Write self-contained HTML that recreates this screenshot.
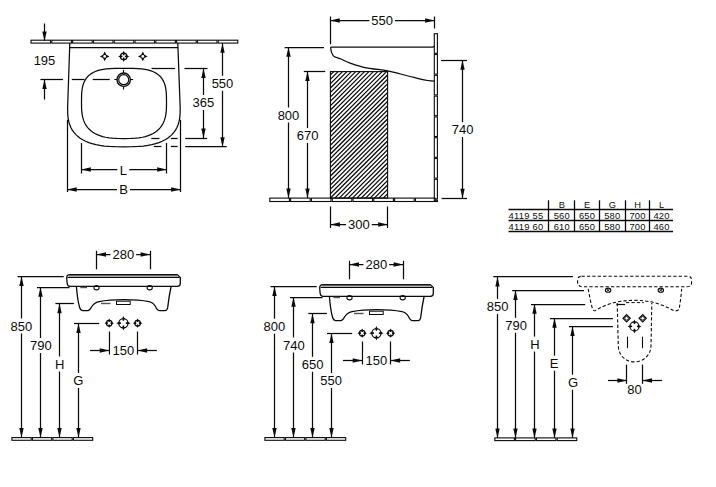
<!DOCTYPE html>
<html><head><meta charset="utf-8"><style>
html,body{margin:0;padding:0;background:#fff;}
svg{display:block;}
text{font-family:"Liberation Sans", sans-serif;fill:#0a0a0a;}
</style></head><body>
<svg width="716" height="487" viewBox="0 0 716 487">
<rect width="716" height="487" fill="#fff"/>
<rect x="31.00" y="40.20" width="19.60" height="2.90" fill="none" stroke="#0a0a0a" stroke-width="1.1"/>
<rect x="51.80" y="40.20" width="19.60" height="2.90" fill="none" stroke="#0a0a0a" stroke-width="1.1"/>
<rect x="72.60" y="40.20" width="19.60" height="2.90" fill="none" stroke="#0a0a0a" stroke-width="1.1"/>
<rect x="93.40" y="40.20" width="19.60" height="2.90" fill="none" stroke="#0a0a0a" stroke-width="1.1"/>
<rect x="114.20" y="40.20" width="19.60" height="2.90" fill="none" stroke="#0a0a0a" stroke-width="1.1"/>
<rect x="135.00" y="40.20" width="19.60" height="2.90" fill="none" stroke="#0a0a0a" stroke-width="1.1"/>
<rect x="155.80" y="40.20" width="19.60" height="2.90" fill="none" stroke="#0a0a0a" stroke-width="1.1"/>
<rect x="176.60" y="40.20" width="19.60" height="2.90" fill="none" stroke="#0a0a0a" stroke-width="1.1"/>
<rect x="197.40" y="40.20" width="19.60" height="2.90" fill="none" stroke="#0a0a0a" stroke-width="1.1"/>
<rect x="218.20" y="40.20" width="19.60" height="2.90" fill="none" stroke="#0a0a0a" stroke-width="1.1"/>
<line x1="44.50" y1="23.50" x2="44.50" y2="41.00" stroke="#0a0a0a" stroke-width="1.25" />
<polygon points="44.50,41.00 42.30,31.50 46.70,31.50" fill="#0a0a0a"/>
<line x1="44.50" y1="79.60" x2="44.50" y2="99.50" stroke="#0a0a0a" stroke-width="1.25" />
<polygon points="44.50,79.60 42.30,89.10 46.70,89.10" fill="#0a0a0a"/>
<text x="44.50" y="65.30" font-size="13" text-anchor="middle">195</text>
<path d="M 177.8 43 L 180.2 108 L 180.20 108.00 L 180.07 114.09 L 179.70 118.07 L 179.06 121.47 L 178.18 124.52 L 177.05 127.29 L 175.67 129.85 L 174.04 132.20 L 172.16 134.36 L 170.03 136.35 L 167.66 138.16 L 165.03 139.79 L 162.15 141.26 L 159.01 142.55 L 155.60 143.68 L 151.90 144.63 L 147.87 145.41 L 143.44 146.02 L 138.51 146.45 L 132.74 146.71 L 123.90 146.80 L 115.06 146.71 L 109.29 146.45 L 104.36 146.02 L 99.93 145.41 L 95.90 144.63 L 92.20 143.68 L 88.79 142.55 L 85.65 141.26 L 82.77 139.79 L 80.14 138.16 L 77.77 136.35 L 75.64 134.36 L 73.76 132.20 L 72.13 129.85 L 70.75 127.29 L 69.62 124.52 L 68.74 121.47 L 68.10 118.07 L 67.73 114.09 L 67.60 108.00 L 69.8 43" fill="none" stroke="#0a0a0a" stroke-width="1.25" />
<line x1="70.00" y1="47.50" x2="178.00" y2="47.50" stroke="#0a0a0a" stroke-width="1.25" />
<path d="M 81.50 103.00 L 81.58 95.58 L 81.82 91.73 L 82.22 88.63 L 82.77 85.97 L 83.49 83.61 L 84.37 81.50 L 85.41 79.59 L 86.62 77.85 L 88.00 76.29 L 89.55 74.87 L 91.28 73.61 L 93.20 72.48 L 95.32 71.50 L 97.66 70.64 L 100.26 69.93 L 103.14 69.34 L 106.40 68.88 L 110.19 68.56 L 114.91 68.36 L 124.00 68.30 L 133.09 68.36 L 137.81 68.56 L 141.60 68.88 L 144.86 69.34 L 147.74 69.93 L 150.34 70.64 L 152.68 71.50 L 154.80 72.48 L 156.72 73.61 L 158.45 74.87 L 160.00 76.29 L 161.38 77.85 L 162.59 79.59 L 163.63 81.50 L 164.51 83.61 L 165.23 85.97 L 165.78 88.63 L 166.18 91.73 L 166.42 95.58 L 166.50 103.00 L 166.50 103.00 L 166.41 108.76 L 166.13 112.44 L 165.66 115.56 L 165.00 118.34 L 164.16 120.88 L 163.14 123.20 L 161.93 125.33 L 160.53 127.29 L 158.95 129.08 L 157.18 130.72 L 155.22 132.19 L 153.08 133.51 L 150.73 134.68 L 148.18 135.69 L 145.40 136.55 L 142.37 137.25 L 139.03 137.80 L 135.30 138.19 L 130.90 138.42 L 124.00 138.50 L 117.10 138.42 L 112.70 138.19 L 108.97 137.80 L 105.63 137.25 L 102.60 136.55 L 99.82 135.69 L 97.27 134.68 L 94.92 133.51 L 92.78 132.19 L 90.82 130.72 L 89.05 129.08 L 87.47 127.29 L 86.07 125.33 L 84.86 123.20 L 83.84 120.88 L 83.00 118.34 L 82.34 115.56 L 81.87 112.44 L 81.59 108.76 L 81.50 103.00 Z" fill="none" stroke="#0a0a0a" stroke-width="1.25" />
<polygon points="109.50,56.40 106.33,58.03 104.70,61.20 103.07,58.03 99.90,56.40 103.07,54.77 104.70,51.60 106.33,54.77" fill="#0a0a0a"/>
<circle cx="104.70" cy="56.40" r="1.43" fill="#fff" stroke="none"/>
<circle cx="123.70" cy="56.40" r="3.20" fill="none" stroke="#0a0a0a" stroke-width="1.3" />
<polygon points="124.90,57.00 126.90,57.50 129.30,56.40 126.90,55.30 124.90,55.80" fill="#0a0a0a"/>
<polygon points="122.50,55.80 120.50,55.30 118.10,56.40 120.50,57.50 122.50,57.00" fill="#0a0a0a"/>
<polygon points="124.30,57.60 124.80,59.60 123.70,62.00 122.60,59.60 123.10,57.60" fill="#0a0a0a"/>
<polygon points="123.10,55.20 122.60,53.20 123.70,50.80 124.80,53.20 124.30,55.20" fill="#0a0a0a"/>
<polygon points="147.60,56.40 144.43,58.03 142.80,61.20 141.17,58.03 138.00,56.40 141.17,54.77 142.80,51.60 144.43,54.77" fill="#0a0a0a"/>
<circle cx="142.80" cy="56.40" r="1.43" fill="#fff" stroke="none"/>
<circle cx="123.70" cy="79.70" r="6.70" fill="none" stroke="#0a0a0a" stroke-width="1.35" />
<circle cx="123.70" cy="79.70" r="5.00" fill="none" stroke="#0a0a0a" stroke-width="1.2" />
<line x1="123.50" y1="69.80" x2="123.50" y2="73.00" stroke="#0a0a0a" stroke-width="1.1" />
<line x1="123.50" y1="86.40" x2="123.50" y2="89.50" stroke="#0a0a0a" stroke-width="1.1" />
<line x1="114.40" y1="79.50" x2="117.00" y2="79.50" stroke="#0a0a0a" stroke-width="1.1" />
<line x1="130.40" y1="79.50" x2="133.20" y2="79.50" stroke="#0a0a0a" stroke-width="1.1" />
<line x1="40.40" y1="79.50" x2="63.00" y2="79.50" stroke="#0a0a0a" stroke-width="1.25" />
<line x1="71.80" y1="79.50" x2="84.60" y2="79.50" stroke="#0a0a0a" stroke-width="1.25" />
<line x1="92.70" y1="79.50" x2="109.70" y2="79.50" stroke="#0a0a0a" stroke-width="1.25" />
<line x1="151.50" y1="68.50" x2="175.10" y2="68.50" stroke="#0a0a0a" stroke-width="1.25" />
<line x1="184.40" y1="68.50" x2="207.50" y2="68.50" stroke="#0a0a0a" stroke-width="1.25" />
<line x1="151.30" y1="138.50" x2="159.50" y2="138.50" stroke="#0a0a0a" stroke-width="1.25" />
<line x1="170.80" y1="138.50" x2="177.70" y2="138.50" stroke="#0a0a0a" stroke-width="1.25" />
<line x1="185.20" y1="138.50" x2="207.20" y2="138.50" stroke="#0a0a0a" stroke-width="1.25" />
<line x1="153.80" y1="146.50" x2="161.40" y2="146.50" stroke="#0a0a0a" stroke-width="1.25" />
<line x1="170.80" y1="146.50" x2="177.70" y2="146.50" stroke="#0a0a0a" stroke-width="1.25" />
<line x1="185.20" y1="146.50" x2="226.70" y2="146.50" stroke="#0a0a0a" stroke-width="1.25" />
<line x1="203.50" y1="68.40" x2="203.50" y2="138.00" stroke="#0a0a0a" stroke-width="1.25" />
<polygon points="203.50,68.40 201.30,77.90 205.70,77.90" fill="#0a0a0a"/>
<polygon points="203.50,138.00 201.30,128.50 205.70,128.50" fill="#0a0a0a"/>
<rect x="190.46" y="95.00" width="25.68" height="15" fill="#fff"/>
<text x="203.30" y="107.30" font-size="13" text-anchor="middle">365</text>
<line x1="222.50" y1="43.20" x2="222.50" y2="146.80" stroke="#0a0a0a" stroke-width="1.25" />
<polygon points="222.50,43.20 220.30,52.70 224.70,52.70" fill="#0a0a0a"/>
<polygon points="222.50,146.80 220.30,137.30 224.70,137.30" fill="#0a0a0a"/>
<rect x="209.66" y="75.80" width="25.68" height="15" fill="#fff"/>
<text x="222.50" y="88.10" font-size="13" text-anchor="middle">550</text>
<line x1="67.50" y1="119.80" x2="67.50" y2="192.00" stroke="#0a0a0a" stroke-width="1.25" />
<line x1="180.50" y1="119.80" x2="180.50" y2="192.00" stroke="#0a0a0a" stroke-width="1.25" />
<line x1="81.50" y1="143.00" x2="81.50" y2="173.50" stroke="#0a0a0a" stroke-width="1.25" />
<line x1="166.50" y1="143.00" x2="166.50" y2="173.50" stroke="#0a0a0a" stroke-width="1.25" />
<line x1="81.30" y1="169.50" x2="166.70" y2="169.50" stroke="#0a0a0a" stroke-width="1.25" />
<polygon points="81.30,169.50 90.80,167.30 90.80,171.70" fill="#0a0a0a"/>
<polygon points="166.70,169.50 157.20,167.30 157.20,171.70" fill="#0a0a0a"/>
<rect x="117.30" y="162.50" width="12.00" height="15" fill="#fff"/>
<text x="123.30" y="174.80" font-size="13" text-anchor="middle">L</text>
<line x1="67.20" y1="189.50" x2="180.60" y2="189.50" stroke="#0a0a0a" stroke-width="1.25" />
<polygon points="67.20,189.50 76.70,187.30 76.70,191.70" fill="#0a0a0a"/>
<polygon points="180.60,189.50 171.10,187.30 171.10,191.70" fill="#0a0a0a"/>
<rect x="117.00" y="181.70" width="13.00" height="15" fill="#fff"/>
<text x="123.50" y="194.00" font-size="13" text-anchor="middle">B</text>
<line x1="330.50" y1="16.50" x2="330.50" y2="44.20" stroke="#0a0a0a" stroke-width="1.25" />
<line x1="434.50" y1="16.50" x2="434.50" y2="28.50" stroke="#0a0a0a" stroke-width="1.25" />
<line x1="330.20" y1="20.50" x2="434.60" y2="20.50" stroke="#0a0a0a" stroke-width="1.25" />
<polygon points="330.20,20.50 339.70,18.30 339.70,22.70" fill="#0a0a0a"/>
<polygon points="434.60,20.50 425.10,18.30 425.10,22.70" fill="#0a0a0a"/>
<rect x="369.36" y="12.60" width="25.68" height="15" fill="#fff"/>
<text x="382.20" y="24.90" font-size="13" text-anchor="middle">550</text>
<rect x="434.30" y="33.70" width="3.10" height="19.60" fill="none" stroke="#0a0a0a" stroke-width="1.1"/>
<rect x="434.30" y="54.50" width="3.10" height="19.60" fill="none" stroke="#0a0a0a" stroke-width="1.1"/>
<rect x="434.30" y="75.30" width="3.10" height="19.60" fill="none" stroke="#0a0a0a" stroke-width="1.1"/>
<rect x="434.30" y="96.10" width="3.10" height="19.60" fill="none" stroke="#0a0a0a" stroke-width="1.1"/>
<rect x="434.30" y="116.90" width="3.10" height="19.60" fill="none" stroke="#0a0a0a" stroke-width="1.1"/>
<rect x="434.30" y="137.70" width="3.10" height="19.60" fill="none" stroke="#0a0a0a" stroke-width="1.1"/>
<rect x="434.30" y="158.50" width="3.10" height="19.60" fill="none" stroke="#0a0a0a" stroke-width="1.1"/>
<rect x="434.30" y="179.30" width="3.10" height="19.60" fill="none" stroke="#0a0a0a" stroke-width="1.1"/>
<rect x="434.30" y="200.10" width="3.10" height="1.40" fill="none" stroke="#0a0a0a" stroke-width="1.1"/>
<path d="M 330.6 47.2 L 432.2 47.2 C 433 47.2 433.6 46.6 434.4 46.1 M 330.6 47.2 C 330.8 50.5 331.6 53.5 333 55.3 C 334 56.5 335 57 336.2 57.3 C 338 57.8 339.5 58.4 341 59 C 344 60.5 347 62 350.7 63.3 C 355 64.8 359 66.3 363.5 67.3 C 368 68.3 373 68.9 378 69.4 C 381.5 69.8 384.5 70.2 387.6 70.8 C 392 71.8 396 72.9 400.5 74 C 405 75.2 410 76.5 415 77.7 C 419.5 78.8 423.5 79.8 427.8 80.5 C 430 80.9 432 81 434.2 81" fill="none" stroke="#0a0a0a" stroke-width="1.25" />
<defs><clipPath id="pc"><rect x="330.4" y="71.6" width="57.2" height="126.5"/></clipPath></defs>
<path d="M 154.40 198.1 L 280.90 71.6 M 158.80 198.1 L 285.30 71.6 M 163.20 198.1 L 289.70 71.6 M 167.60 198.1 L 294.10 71.6 M 172.00 198.1 L 298.50 71.6 M 176.40 198.1 L 302.90 71.6 M 180.80 198.1 L 307.30 71.6 M 185.20 198.1 L 311.70 71.6 M 189.60 198.1 L 316.10 71.6 M 194.00 198.1 L 320.50 71.6 M 198.40 198.1 L 324.90 71.6 M 202.80 198.1 L 329.30 71.6 M 207.20 198.1 L 333.70 71.6 M 211.60 198.1 L 338.10 71.6 M 216.00 198.1 L 342.50 71.6 M 220.40 198.1 L 346.90 71.6 M 224.80 198.1 L 351.30 71.6 M 229.20 198.1 L 355.70 71.6 M 233.60 198.1 L 360.10 71.6 M 238.00 198.1 L 364.50 71.6 M 242.40 198.1 L 368.90 71.6 M 246.80 198.1 L 373.30 71.6 M 251.20 198.1 L 377.70 71.6 M 255.60 198.1 L 382.10 71.6 M 260.00 198.1 L 386.50 71.6 M 264.40 198.1 L 390.90 71.6 M 268.80 198.1 L 395.30 71.6 M 273.20 198.1 L 399.70 71.6 M 277.60 198.1 L 404.10 71.6 M 282.00 198.1 L 408.50 71.6 M 286.40 198.1 L 412.90 71.6 M 290.80 198.1 L 417.30 71.6 M 295.20 198.1 L 421.70 71.6 M 299.60 198.1 L 426.10 71.6 M 304.00 198.1 L 430.50 71.6 M 308.40 198.1 L 434.90 71.6 M 312.80 198.1 L 439.30 71.6 M 317.20 198.1 L 443.70 71.6 M 321.60 198.1 L 448.10 71.6 M 326.00 198.1 L 452.50 71.6 M 330.40 198.1 L 456.90 71.6 M 334.80 198.1 L 461.30 71.6 M 339.20 198.1 L 465.70 71.6 M 343.60 198.1 L 470.10 71.6 M 348.00 198.1 L 474.50 71.6 M 352.40 198.1 L 478.90 71.6 M 356.80 198.1 L 483.30 71.6 M 361.20 198.1 L 487.70 71.6 M 365.60 198.1 L 492.10 71.6 M 370.00 198.1 L 496.50 71.6 M 374.40 198.1 L 500.90 71.6 M 378.80 198.1 L 505.30 71.6 M 383.20 198.1 L 509.70 71.6 M 387.60 198.1 L 514.10 71.6 M 392.00 198.1 L 518.50 71.6 M 396.40 198.1 L 522.90 71.6 M 400.80 198.1 L 527.30 71.6 M 405.20 198.1 L 531.70 71.6 M 409.60 198.1 L 536.10 71.6 M 414.00 198.1 L 540.50 71.6 M 418.40 198.1 L 544.90 71.6 M 422.80 198.1 L 549.30 71.6 M 427.20 198.1 L 553.70 71.6 M 431.60 198.1 L 558.10 71.6 M 436.00 198.1 L 562.50 71.6 M 440.40 198.1 L 566.90 71.6 M 444.80 198.1 L 571.30 71.6 M 449.20 198.1 L 575.70 71.6 M 453.60 198.1 L 580.10 71.6 M 458.00 198.1 L 584.50 71.6 M 462.40 198.1 L 588.90 71.6 M 466.80 198.1 L 593.30 71.6 M 471.20 198.1 L 597.70 71.6 M 475.60 198.1 L 602.10 71.6 M 480.00 198.1 L 606.50 71.6 M 484.40 198.1 L 610.90 71.6 M 488.80 198.1 L 615.30 71.6 M 493.20 198.1 L 619.70 71.6 M 497.60 198.1 L 624.10 71.6 M 502.00 198.1 L 628.50 71.6 M 506.40 198.1 L 632.90 71.6 M 510.80 198.1 L 637.30 71.6 M 515.20 198.1 L 641.70 71.6 M 519.60 198.1 L 646.10 71.6 M 524.00 198.1 L 650.50 71.6 M 528.40 198.1 L 654.90 71.6 M 532.80 198.1 L 659.30 71.6 M 537.20 198.1 L 663.70 71.6 M 541.60 198.1 L 668.10 71.6 M 546.00 198.1 L 672.50 71.6 M 550.40 198.1 L 676.90 71.6 M 554.80 198.1 L 681.30 71.6 M 559.20 198.1 L 685.70 71.6 M 563.60 198.1 L 690.10 71.6 M 568.00 198.1 L 694.50 71.6 M 572.40 198.1 L 698.90 71.6 M 576.80 198.1 L 703.30 71.6 M 581.20 198.1 L 707.70 71.6 M 585.60 198.1 L 712.10 71.6 M 590.00 198.1 L 716.50 71.6" fill="none" stroke="#0a0a0a" stroke-width="1.25" clip-path="url(#pc)"/>
<rect x="330.4" y="71.6" width="57.2" height="126.5" fill="none" stroke="#0a0a0a" stroke-width="1.1"/>
<rect x="269.80" y="198.10" width="19.60" height="3.40" fill="none" stroke="#0a0a0a" stroke-width="1.1"/>
<rect x="290.60" y="198.10" width="19.60" height="3.40" fill="none" stroke="#0a0a0a" stroke-width="1.1"/>
<rect x="311.40" y="198.10" width="19.60" height="3.40" fill="none" stroke="#0a0a0a" stroke-width="1.1"/>
<rect x="332.20" y="198.10" width="19.60" height="3.40" fill="none" stroke="#0a0a0a" stroke-width="1.1"/>
<rect x="353.00" y="198.10" width="19.60" height="3.40" fill="none" stroke="#0a0a0a" stroke-width="1.1"/>
<rect x="373.80" y="198.10" width="19.60" height="3.40" fill="none" stroke="#0a0a0a" stroke-width="1.1"/>
<rect x="394.60" y="198.10" width="19.60" height="3.40" fill="none" stroke="#0a0a0a" stroke-width="1.1"/>
<rect x="415.40" y="198.10" width="19.60" height="3.40" fill="none" stroke="#0a0a0a" stroke-width="1.1"/>
<line x1="284.60" y1="47.50" x2="324.00" y2="47.50" stroke="#0a0a0a" stroke-width="1.25" />
<line x1="303.80" y1="71.50" x2="325.20" y2="71.50" stroke="#0a0a0a" stroke-width="1.25" />
<line x1="288.50" y1="47.20" x2="288.50" y2="198.10" stroke="#0a0a0a" stroke-width="1.25" />
<polygon points="288.50,47.20 286.30,56.70 290.70,56.70" fill="#0a0a0a"/>
<polygon points="288.50,198.10 286.30,188.60 290.70,188.60" fill="#0a0a0a"/>
<rect x="275.66" y="107.50" width="25.68" height="15" fill="#fff"/>
<text x="288.50" y="119.80" font-size="13" text-anchor="middle">800</text>
<line x1="307.50" y1="71.40" x2="307.50" y2="198.10" stroke="#0a0a0a" stroke-width="1.25" />
<polygon points="307.50,71.40 305.30,80.90 309.70,80.90" fill="#0a0a0a"/>
<polygon points="307.50,198.10 305.30,188.60 309.70,188.60" fill="#0a0a0a"/>
<rect x="294.86" y="128.00" width="25.68" height="15" fill="#fff"/>
<text x="307.70" y="140.30" font-size="13" text-anchor="middle">670</text>
<line x1="441.00" y1="60.50" x2="467.00" y2="60.50" stroke="#0a0a0a" stroke-width="1.25" />
<line x1="441.60" y1="198.50" x2="467.00" y2="198.50" stroke="#0a0a0a" stroke-width="1.25" />
<line x1="462.50" y1="60.30" x2="462.50" y2="198.30" stroke="#0a0a0a" stroke-width="1.25" />
<polygon points="462.50,60.30 460.30,69.80 464.70,69.80" fill="#0a0a0a"/>
<polygon points="462.50,198.30 460.30,188.80 464.70,188.80" fill="#0a0a0a"/>
<rect x="449.86" y="122.10" width="25.68" height="15" fill="#fff"/>
<text x="462.70" y="134.40" font-size="13" text-anchor="middle">740</text>
<line x1="330.50" y1="206.50" x2="330.50" y2="228.00" stroke="#0a0a0a" stroke-width="1.25" />
<line x1="387.50" y1="206.50" x2="387.50" y2="228.00" stroke="#0a0a0a" stroke-width="1.25" />
<line x1="330.40" y1="224.50" x2="387.70" y2="224.50" stroke="#0a0a0a" stroke-width="1.25" />
<polygon points="330.40,224.50 339.90,222.30 339.90,226.70" fill="#0a0a0a"/>
<polygon points="387.70,224.50 378.20,222.30 378.20,226.70" fill="#0a0a0a"/>
<rect x="346.06" y="217.10" width="25.68" height="15" fill="#fff"/>
<text x="358.90" y="229.40" font-size="13" text-anchor="middle">300</text>
<line x1="508.50" y1="209.50" x2="673.00" y2="209.50" stroke="#0a0a0a" stroke-width="1.5" />
<line x1="508.50" y1="220.50" x2="673.00" y2="220.50" stroke="#0a0a0a" stroke-width="1.5" />
<line x1="508.50" y1="231.50" x2="673.00" y2="231.50" stroke="#0a0a0a" stroke-width="1.5" />
<line x1="548.50" y1="200.30" x2="548.50" y2="231.80" stroke="#0a0a0a" stroke-width="1.3" />
<line x1="574.50" y1="200.30" x2="574.50" y2="231.80" stroke="#0a0a0a" stroke-width="1.3" />
<line x1="599.50" y1="200.30" x2="599.50" y2="231.80" stroke="#0a0a0a" stroke-width="1.3" />
<line x1="625.50" y1="200.30" x2="625.50" y2="231.80" stroke="#0a0a0a" stroke-width="1.3" />
<line x1="649.50" y1="200.30" x2="649.50" y2="231.80" stroke="#0a0a0a" stroke-width="1.3" />
<text x="561.8" y="208.0" font-size="9.3" text-anchor="middle" fill="#333">B</text>
<text x="587" y="208.0" font-size="9.3" text-anchor="middle" fill="#333">E</text>
<text x="612.3" y="208.0" font-size="9.3" text-anchor="middle" fill="#333">G</text>
<text x="637.5" y="208.0" font-size="9.3" text-anchor="middle" fill="#333">H</text>
<text x="661.5" y="208.0" font-size="9.3" text-anchor="middle" fill="#333">L</text>
<text x="508.6" y="218.7" font-size="9.4" letter-spacing="0.25" fill="#222">4119 55</text>
<text x="561.8" y="218.7" font-size="9.4" letter-spacing="0.2" text-anchor="middle" fill="#222">560</text>
<text x="587" y="218.7" font-size="9.4" letter-spacing="0.2" text-anchor="middle" fill="#222">650</text>
<text x="612.3" y="218.7" font-size="9.4" letter-spacing="0.2" text-anchor="middle" fill="#222">580</text>
<text x="637.5" y="218.7" font-size="9.4" letter-spacing="0.2" text-anchor="middle" fill="#222">700</text>
<text x="661.5" y="218.7" font-size="9.4" letter-spacing="0.2" text-anchor="middle" fill="#222">420</text>
<text x="508.6" y="229.7" font-size="9.4" letter-spacing="0.25" fill="#222">4119 60</text>
<text x="561.8" y="229.7" font-size="9.4" letter-spacing="0.2" text-anchor="middle" fill="#222">610</text>
<text x="587" y="229.7" font-size="9.4" letter-spacing="0.2" text-anchor="middle" fill="#222">650</text>
<text x="612.3" y="229.7" font-size="9.4" letter-spacing="0.2" text-anchor="middle" fill="#222">580</text>
<text x="637.5" y="229.7" font-size="9.4" letter-spacing="0.2" text-anchor="middle" fill="#222">700</text>
<text x="661.5" y="229.7" font-size="9.4" letter-spacing="0.2" text-anchor="middle" fill="#222">460</text>
<g transform="translate(0,0)">
<path d="M 70 274.6 L 177.2 274.6 L 180.3 277.6 L 180.3 283.5 C 180.3 285.5 179.2 286.3 177.5 286.3 L 70 286.3 C 68.3 286.3 67.3 285 67.1 283 L 66.7 278 C 66.6 275.8 67.8 274.6 70 274.6 Z" fill="none" stroke="#0a0a0a" stroke-width="1.3" />
<rect x="68.5" y="274.9" width="109.5" height="1.6" fill="#666"/>
<line x1="67.60" y1="277.50" x2="179.20" y2="277.50" stroke="#0a0a0a" stroke-width="1.15" />
<path d="M 76.4 286.5 C 77 294 78 302 79.5 307 C 80.2 309.8 81.5 310.6 83 310.6 L 87.7 310.6 C 89.5 310.6 90.5 309 91.5 307 C 93 304.5 95 302.5 99 301.6 C 106 300.2 114 299.6 124 299.6 C 134 299.6 142 300.2 149 301.6 C 152.5 302.3 154 304 155.5 306.5 C 156.6 309 157.5 310.6 159.5 310.6 L 164.9 310.6 C 166.5 310.6 167.4 309.5 167.7 307.5 C 168.3 302 169.5 294 171.1 286.5" fill="none" stroke="#0a0a0a" stroke-width="1.3" />
<ellipse cx="96.5" cy="287.7" rx="2.6" ry="2.2" fill="none" stroke="#0a0a0a" stroke-width="1.1"/>
<ellipse cx="149.7" cy="287.7" rx="2.6" ry="2.2" fill="none" stroke="#0a0a0a" stroke-width="1.1"/>
<rect x="116.5" y="301.2" width="13.7" height="3.3" fill="none" stroke="#0a0a0a" stroke-width="1.0"/>
<line x1="80.30" y1="287.50" x2="87.00" y2="287.50" stroke="#555" stroke-width="1.4" />
<line x1="101.00" y1="303.50" x2="110.60" y2="303.50" stroke="#555" stroke-width="1.4" />
</g>
<line x1="96.50" y1="250.80" x2="96.50" y2="269.30" stroke="#0a0a0a" stroke-width="1.25" />
<line x1="150.50" y1="250.80" x2="150.50" y2="269.30" stroke="#0a0a0a" stroke-width="1.25" />
<line x1="96.50" y1="254.50" x2="150.10" y2="254.50" stroke="#0a0a0a" stroke-width="1.25" />
<polygon points="96.50,254.50 106.00,252.30 106.00,256.70" fill="#0a0a0a"/>
<polygon points="150.10,254.50 140.60,252.30 140.60,256.70" fill="#0a0a0a"/>
<rect x="110.46" y="246.90" width="25.68" height="15" fill="#fff"/>
<text x="123.30" y="259.20" font-size="13" text-anchor="middle">280</text>
<line x1="17.50" y1="276.50" x2="63.70" y2="276.50" stroke="#0a0a0a" stroke-width="1.25" />
<line x1="37.00" y1="287.50" x2="69.50" y2="287.50" stroke="#0a0a0a" stroke-width="1.25" />
<line x1="55.40" y1="303.50" x2="73.90" y2="303.50" stroke="#0a0a0a" stroke-width="1.25" />
<line x1="74.00" y1="323.50" x2="99.20" y2="323.50" stroke="#0a0a0a" stroke-width="1.25" />
<line x1="21.50" y1="276.40" x2="21.50" y2="437.60" stroke="#0a0a0a" stroke-width="1.25" />
<polygon points="21.50,276.40 19.30,285.90 23.70,285.90" fill="#0a0a0a"/>
<polygon points="21.50,437.60 19.30,428.10 23.70,428.10" fill="#0a0a0a"/>
<rect x="8.46" y="318.50" width="25.68" height="15" fill="#fff"/>
<text x="21.30" y="330.80" font-size="13" text-anchor="middle">850</text>
<line x1="40.50" y1="287.30" x2="40.50" y2="437.60" stroke="#0a0a0a" stroke-width="1.25" />
<polygon points="40.50,287.30 38.30,296.80 42.70,296.80" fill="#0a0a0a"/>
<polygon points="40.50,437.60 38.30,428.10 42.70,428.10" fill="#0a0a0a"/>
<rect x="28.06" y="338.00" width="25.68" height="15" fill="#fff"/>
<text x="40.90" y="350.30" font-size="13" text-anchor="middle">790</text>
<line x1="59.50" y1="303.70" x2="59.50" y2="437.60" stroke="#0a0a0a" stroke-width="1.25" />
<polygon points="59.50,303.70 57.30,313.20 61.70,313.20" fill="#0a0a0a"/>
<polygon points="59.50,437.60 57.30,428.10 61.70,428.10" fill="#0a0a0a"/>
<rect x="53.45" y="356.50" width="12.50" height="15" fill="#fff"/>
<text x="59.70" y="368.80" font-size="13" text-anchor="middle">H</text>
<line x1="78.50" y1="323.40" x2="78.50" y2="437.60" stroke="#0a0a0a" stroke-width="1.25" />
<polygon points="78.50,323.40 76.30,332.90 80.70,332.90" fill="#0a0a0a"/>
<polygon points="78.50,437.60 76.30,428.10 80.70,428.10" fill="#0a0a0a"/>
<rect x="71.95" y="373.00" width="12.50" height="15" fill="#fff"/>
<text x="78.20" y="385.30" font-size="13" text-anchor="middle">G</text>
<rect x="11.90" y="437.60" width="19.30" height="2.70" fill="none" stroke="#0a0a0a" stroke-width="1.1"/>
<rect x="32.40" y="437.60" width="19.30" height="2.70" fill="none" stroke="#0a0a0a" stroke-width="1.1"/>
<rect x="52.90" y="437.60" width="19.30" height="2.70" fill="none" stroke="#0a0a0a" stroke-width="1.1"/>
<rect x="73.40" y="437.60" width="19.30" height="2.70" fill="none" stroke="#0a0a0a" stroke-width="1.1"/>
<circle cx="109.20" cy="323.20" r="2.80" fill="none" stroke="#0a0a0a" stroke-width="1.2" />
<polygon points="110.46,323.80 112.00,324.30 113.80,323.20 112.00,322.10 110.46,322.60" fill="#0a0a0a"/>
<polygon points="107.94,322.60 106.40,322.10 104.60,323.20 106.40,324.30 107.94,323.80" fill="#0a0a0a"/>
<polygon points="109.80,324.46 110.30,326.00 109.20,327.80 108.10,326.00 108.60,324.46" fill="#0a0a0a"/>
<polygon points="108.60,321.94 108.10,320.40 109.20,318.60 110.30,320.40 109.80,321.94" fill="#0a0a0a"/>
<circle cx="123.40" cy="323.20" r="4.60" fill="none" stroke="#0a0a0a" stroke-width="1.2" />
<polygon points="125.80,323.80 128.00,324.30 130.60,323.20 128.00,322.10 125.80,322.60" fill="#0a0a0a"/>
<polygon points="121.00,322.60 118.80,322.10 116.20,323.20 118.80,324.30 121.00,323.80" fill="#0a0a0a"/>
<polygon points="124.00,325.60 124.50,327.80 123.40,330.40 122.30,327.80 122.80,325.60" fill="#0a0a0a"/>
<polygon points="122.80,320.80 122.30,318.60 123.40,316.00 124.50,318.60 124.00,320.80" fill="#0a0a0a"/>
<circle cx="137.60" cy="323.20" r="2.80" fill="none" stroke="#0a0a0a" stroke-width="1.2" />
<polygon points="138.86,323.80 140.40,324.30 142.20,323.20 140.40,322.10 138.86,322.60" fill="#0a0a0a"/>
<polygon points="136.34,322.60 134.80,322.10 133.00,323.20 134.80,324.30 136.34,323.80" fill="#0a0a0a"/>
<polygon points="138.20,324.46 138.70,326.00 137.60,327.80 136.50,326.00 137.00,324.46" fill="#0a0a0a"/>
<polygon points="137.00,321.94 136.50,320.40 137.60,318.60 138.70,320.40 138.20,321.94" fill="#0a0a0a"/>
<line x1="109.50" y1="331.50" x2="109.50" y2="354.50" stroke="#0a0a0a" stroke-width="1.25" />
<line x1="137.50" y1="331.50" x2="137.50" y2="354.50" stroke="#0a0a0a" stroke-width="1.25" />
<line x1="90.00" y1="350.50" x2="109.20" y2="350.50" stroke="#0a0a0a" stroke-width="1.25" />
<polygon points="109.20,350.50 99.70,348.30 99.70,352.70" fill="#0a0a0a"/>
<line x1="137.60" y1="350.50" x2="156.80" y2="350.50" stroke="#0a0a0a" stroke-width="1.25" />
<polygon points="137.60,350.50 147.10,348.30 147.10,352.70" fill="#0a0a0a"/>
<rect x="110.46" y="342.20" width="25.68" height="15" fill="#fff"/>
<text x="123.30" y="354.50" font-size="13" text-anchor="middle">150</text>
<g transform="translate(253,10)">
<path d="M 70 274.6 L 177.2 274.6 L 180.3 277.6 L 180.3 283.5 C 180.3 285.5 179.2 286.3 177.5 286.3 L 70 286.3 C 68.3 286.3 67.3 285 67.1 283 L 66.7 278 C 66.6 275.8 67.8 274.6 70 274.6 Z" fill="none" stroke="#0a0a0a" stroke-width="1.3" />
<rect x="68.5" y="274.9" width="109.5" height="1.6" fill="#666"/>
<line x1="67.60" y1="277.50" x2="179.20" y2="277.50" stroke="#0a0a0a" stroke-width="1.15" />
<path d="M 76.4 286.5 C 77 294 78 302 79.5 307 C 80.2 309.8 81.5 310.6 83 310.6 L 87.7 310.6 C 89.5 310.6 90.5 309 91.5 307 C 93 304.5 95 302.5 99 301.6 C 106 300.2 114 299.6 124 299.6 C 134 299.6 142 300.2 149 301.6 C 152.5 302.3 154 304 155.5 306.5 C 156.6 309 157.5 310.6 159.5 310.6 L 164.9 310.6 C 166.5 310.6 167.4 309.5 167.7 307.5 C 168.3 302 169.5 294 171.1 286.5" fill="none" stroke="#0a0a0a" stroke-width="1.3" />
<ellipse cx="96.5" cy="287.7" rx="2.6" ry="2.2" fill="none" stroke="#0a0a0a" stroke-width="1.1"/>
<ellipse cx="149.7" cy="287.7" rx="2.6" ry="2.2" fill="none" stroke="#0a0a0a" stroke-width="1.1"/>
<rect x="116.5" y="301.2" width="13.7" height="3.3" fill="none" stroke="#0a0a0a" stroke-width="1.0"/>
<line x1="80.30" y1="287.50" x2="87.00" y2="287.50" stroke="#555" stroke-width="1.4" />
<line x1="101.00" y1="303.50" x2="110.60" y2="303.50" stroke="#555" stroke-width="1.4" />
</g>
<line x1="349.50" y1="260.80" x2="349.50" y2="279.30" stroke="#0a0a0a" stroke-width="1.25" />
<line x1="403.50" y1="260.80" x2="403.50" y2="279.30" stroke="#0a0a0a" stroke-width="1.25" />
<line x1="349.50" y1="264.50" x2="403.10" y2="264.50" stroke="#0a0a0a" stroke-width="1.25" />
<polygon points="349.50,264.50 359.00,262.30 359.00,266.70" fill="#0a0a0a"/>
<polygon points="403.10,264.50 393.60,262.30 393.60,266.70" fill="#0a0a0a"/>
<rect x="363.46" y="256.90" width="25.68" height="15" fill="#fff"/>
<text x="376.30" y="269.20" font-size="13" text-anchor="middle">280</text>
<line x1="270.50" y1="286.50" x2="316.70" y2="286.50" stroke="#0a0a0a" stroke-width="1.25" />
<line x1="290.00" y1="297.50" x2="322.50" y2="297.50" stroke="#0a0a0a" stroke-width="1.25" />
<line x1="308.40" y1="313.50" x2="326.90" y2="313.50" stroke="#0a0a0a" stroke-width="1.25" />
<line x1="327.00" y1="333.50" x2="352.20" y2="333.50" stroke="#0a0a0a" stroke-width="1.25" />
<line x1="274.50" y1="286.40" x2="274.50" y2="437.60" stroke="#0a0a0a" stroke-width="1.25" />
<polygon points="274.50,286.40 272.30,295.90 276.70,295.90" fill="#0a0a0a"/>
<polygon points="274.50,437.60 272.30,428.10 276.70,428.10" fill="#0a0a0a"/>
<rect x="261.46" y="318.70" width="25.68" height="15" fill="#fff"/>
<text x="274.30" y="331.00" font-size="13" text-anchor="middle">800</text>
<line x1="293.50" y1="297.30" x2="293.50" y2="437.60" stroke="#0a0a0a" stroke-width="1.25" />
<polygon points="293.50,297.30 291.30,306.80 295.70,306.80" fill="#0a0a0a"/>
<polygon points="293.50,437.60 291.30,428.10 295.70,428.10" fill="#0a0a0a"/>
<rect x="281.06" y="337.50" width="25.68" height="15" fill="#fff"/>
<text x="293.90" y="349.80" font-size="13" text-anchor="middle">740</text>
<line x1="312.50" y1="313.70" x2="312.50" y2="437.60" stroke="#0a0a0a" stroke-width="1.25" />
<polygon points="312.50,313.70 310.30,323.20 314.70,323.20" fill="#0a0a0a"/>
<polygon points="312.50,437.60 310.30,428.10 314.70,428.10" fill="#0a0a0a"/>
<rect x="299.86" y="356.80" width="25.68" height="15" fill="#fff"/>
<text x="312.70" y="369.10" font-size="13" text-anchor="middle">650</text>
<line x1="331.50" y1="333.40" x2="331.50" y2="437.60" stroke="#0a0a0a" stroke-width="1.25" />
<polygon points="331.50,333.40 329.30,342.90 333.70,342.90" fill="#0a0a0a"/>
<polygon points="331.50,437.60 329.30,428.10 333.70,428.10" fill="#0a0a0a"/>
<rect x="318.36" y="373.00" width="25.68" height="15" fill="#fff"/>
<text x="331.20" y="385.30" font-size="13" text-anchor="middle">550</text>
<rect x="264.90" y="437.60" width="19.30" height="2.70" fill="none" stroke="#0a0a0a" stroke-width="1.1"/>
<rect x="285.40" y="437.60" width="19.30" height="2.70" fill="none" stroke="#0a0a0a" stroke-width="1.1"/>
<rect x="305.90" y="437.60" width="19.30" height="2.70" fill="none" stroke="#0a0a0a" stroke-width="1.1"/>
<rect x="326.40" y="437.60" width="19.30" height="2.70" fill="none" stroke="#0a0a0a" stroke-width="1.1"/>
<circle cx="362.20" cy="333.20" r="2.80" fill="none" stroke="#0a0a0a" stroke-width="1.2" />
<polygon points="363.46,333.80 365.00,334.30 366.80,333.20 365.00,332.10 363.46,332.60" fill="#0a0a0a"/>
<polygon points="360.94,332.60 359.40,332.10 357.60,333.20 359.40,334.30 360.94,333.80" fill="#0a0a0a"/>
<polygon points="362.80,334.46 363.30,336.00 362.20,337.80 361.10,336.00 361.60,334.46" fill="#0a0a0a"/>
<polygon points="361.60,331.94 361.10,330.40 362.20,328.60 363.30,330.40 362.80,331.94" fill="#0a0a0a"/>
<circle cx="376.40" cy="333.20" r="4.60" fill="none" stroke="#0a0a0a" stroke-width="1.2" />
<polygon points="378.80,333.80 381.00,334.30 383.60,333.20 381.00,332.10 378.80,332.60" fill="#0a0a0a"/>
<polygon points="374.00,332.60 371.80,332.10 369.20,333.20 371.80,334.30 374.00,333.80" fill="#0a0a0a"/>
<polygon points="377.00,335.60 377.50,337.80 376.40,340.40 375.30,337.80 375.80,335.60" fill="#0a0a0a"/>
<polygon points="375.80,330.80 375.30,328.60 376.40,326.00 377.50,328.60 377.00,330.80" fill="#0a0a0a"/>
<circle cx="390.60" cy="333.20" r="2.80" fill="none" stroke="#0a0a0a" stroke-width="1.2" />
<polygon points="391.86,333.80 393.40,334.30 395.20,333.20 393.40,332.10 391.86,332.60" fill="#0a0a0a"/>
<polygon points="389.34,332.60 387.80,332.10 386.00,333.20 387.80,334.30 389.34,333.80" fill="#0a0a0a"/>
<polygon points="391.20,334.46 391.70,336.00 390.60,337.80 389.50,336.00 390.00,334.46" fill="#0a0a0a"/>
<polygon points="390.00,331.94 389.50,330.40 390.60,328.60 391.70,330.40 391.20,331.94" fill="#0a0a0a"/>
<line x1="362.50" y1="341.50" x2="362.50" y2="364.50" stroke="#0a0a0a" stroke-width="1.25" />
<line x1="390.50" y1="341.50" x2="390.50" y2="364.50" stroke="#0a0a0a" stroke-width="1.25" />
<line x1="343.00" y1="360.50" x2="362.20" y2="360.50" stroke="#0a0a0a" stroke-width="1.25" />
<polygon points="362.20,360.50 352.70,358.30 352.70,362.70" fill="#0a0a0a"/>
<line x1="390.60" y1="360.50" x2="409.80" y2="360.50" stroke="#0a0a0a" stroke-width="1.25" />
<polygon points="390.60,360.50 400.10,358.30 400.10,362.70" fill="#0a0a0a"/>
<rect x="363.46" y="352.20" width="25.68" height="15" fill="#fff"/>
<text x="376.30" y="364.50" font-size="13" text-anchor="middle">150</text>
<path d="M 581.5 276.3 L 687.8 276.3 C 690.5 276.3 691.6 277.8 691.6 280.5 L 691.6 282.5 C 691.6 285.5 689.8 286.8 686.8 286.8 L 583 286.8 C 579.5 286.8 577.6 285 577.6 282 L 577.6 280 C 577.6 277.6 579 276.3 581.5 276.3 Z" fill="none" stroke="#0a0a0a" stroke-width="1.1" stroke-dasharray="3.3,2.1"/>
<path d="M 588.2 288.9 C 589.5 296 591 304 592.7 309.2 C 593.3 310.6 594.3 311 595.6 310.5 C 606 304 618 300.5 634 300.3 C 650 300.3 662 304 673.5 310.6 C 675.5 311.2 678.2 311 679 309.2 C 680.3 303 681 296 681.7 288.9" fill="none" stroke="#0a0a0a" stroke-width="1.1" stroke-dasharray="3.3,2.1"/>
<ellipse cx="608.1" cy="290.2" rx="2.7" ry="2.1" fill="none" stroke="#0a0a0a" stroke-width="1.1"/>
<line x1="606.50" y1="288.80" x2="609.70" y2="291.60" stroke="#0a0a0a" stroke-width="0.9" />
<line x1="606.50" y1="291.60" x2="609.70" y2="288.80" stroke="#0a0a0a" stroke-width="0.9" />
<ellipse cx="660.8" cy="290.2" rx="2.7" ry="2.1" fill="none" stroke="#0a0a0a" stroke-width="1.1"/>
<line x1="659.20" y1="288.80" x2="662.40" y2="291.60" stroke="#0a0a0a" stroke-width="0.9" />
<line x1="659.20" y1="291.60" x2="662.40" y2="288.80" stroke="#0a0a0a" stroke-width="0.9" />
<path d="M 617.2 303 L 618.3 346 C 618.8 356 626 361.9 634.4 361.9 C 642.8 361.9 650.5 356 651 346 L 651.8 303" fill="none" stroke="#0a0a0a" stroke-width="1.1" stroke-dasharray="3.3,2.1"/>
<line x1="616.50" y1="304.50" x2="625.10" y2="304.50" stroke="#0a0a0a" stroke-width="1.2" />
<path d="M 626 302.6 L 643.8 302.6" fill="none" stroke="#0a0a0a" stroke-width="1.0" stroke-dasharray="3.3,2.1"/>
<polygon points="626.6,314.7 630.2,318.3 626.6,321.90000000000003 623.0,318.3" fill="none" stroke="#0a0a0a" stroke-width="1.2"/>
<circle cx="626.60" cy="318.30" r="1.80" fill="none" stroke="#0a0a0a" stroke-width="0.9" />
<polygon points="642.7,314.7 646.3000000000001,318.3 642.7,321.90000000000003 639.1,318.3" fill="none" stroke="#0a0a0a" stroke-width="1.2"/>
<circle cx="642.70" cy="318.30" r="1.80" fill="none" stroke="#0a0a0a" stroke-width="0.9" />
<circle cx="634.50" cy="326.40" r="4.50" fill="none" stroke="#0a0a0a" stroke-width="1.2" />
<polygon points="636.90,327.00 639.00,327.50 641.50,326.40 639.00,325.30 636.90,325.80" fill="#0a0a0a"/>
<polygon points="632.10,325.80 630.00,325.30 627.50,326.40 630.00,327.50 632.10,327.00" fill="#0a0a0a"/>
<polygon points="635.10,328.80 635.60,330.90 634.50,333.40 633.40,330.90 633.90,328.80" fill="#0a0a0a"/>
<polygon points="633.90,324.00 633.40,321.90 634.50,319.40 635.60,321.90 635.10,324.00" fill="#0a0a0a"/>
<line x1="627.50" y1="336.70" x2="627.50" y2="348.20" stroke="#0a0a0a" stroke-width="1.1" />
<line x1="642.50" y1="336.70" x2="642.50" y2="348.20" stroke="#0a0a0a" stroke-width="1.1" />
<line x1="626.50" y1="364.60" x2="626.50" y2="383.80" stroke="#0a0a0a" stroke-width="1.25" />
<line x1="642.50" y1="364.60" x2="642.50" y2="383.80" stroke="#0a0a0a" stroke-width="1.25" />
<line x1="608.00" y1="380.50" x2="626.90" y2="380.50" stroke="#0a0a0a" stroke-width="1.25" />
<polygon points="626.90,380.50 617.40,378.30 617.40,382.70" fill="#0a0a0a"/>
<line x1="642.50" y1="380.50" x2="661.90" y2="380.50" stroke="#0a0a0a" stroke-width="1.25" />
<polygon points="642.50,380.50 652.00,378.30 652.00,382.70" fill="#0a0a0a"/>
<text x="634.60" y="393.60" font-size="13" text-anchor="middle">80</text>
<line x1="493.30" y1="276.50" x2="572.90" y2="276.50" stroke="#0a0a0a" stroke-width="1.25" />
<line x1="512.20" y1="290.50" x2="584.00" y2="290.50" stroke="#0a0a0a" stroke-width="1.25" />
<line x1="531.00" y1="304.50" x2="585.20" y2="304.50" stroke="#0a0a0a" stroke-width="1.25" />
<line x1="549.90" y1="318.50" x2="612.90" y2="318.50" stroke="#0a0a0a" stroke-width="1.25" />
<line x1="569.00" y1="326.50" x2="612.90" y2="326.50" stroke="#0a0a0a" stroke-width="1.25" />
<line x1="497.50" y1="276.90" x2="497.50" y2="437.90" stroke="#0a0a0a" stroke-width="1.25" />
<polygon points="497.50,276.90 495.30,286.40 499.70,286.40" fill="#0a0a0a"/>
<polygon points="497.50,437.90 495.30,428.40 499.70,428.40" fill="#0a0a0a"/>
<rect x="484.76" y="298.90" width="25.68" height="15" fill="#fff"/>
<text x="497.60" y="311.20" font-size="13" text-anchor="middle">850</text>
<line x1="515.50" y1="290.40" x2="515.50" y2="437.90" stroke="#0a0a0a" stroke-width="1.25" />
<polygon points="515.50,290.40 513.30,299.90 517.70,299.90" fill="#0a0a0a"/>
<polygon points="515.50,437.90 513.30,428.40 517.70,428.40" fill="#0a0a0a"/>
<rect x="503.26" y="317.80" width="25.68" height="15" fill="#fff"/>
<text x="516.10" y="330.10" font-size="13" text-anchor="middle">790</text>
<line x1="534.50" y1="304.30" x2="534.50" y2="437.90" stroke="#0a0a0a" stroke-width="1.25" />
<polygon points="534.50,304.30 532.30,313.80 536.70,313.80" fill="#0a0a0a"/>
<polygon points="534.50,437.90 532.30,428.40 536.70,428.40" fill="#0a0a0a"/>
<rect x="528.65" y="336.60" width="12.50" height="15" fill="#fff"/>
<text x="534.90" y="348.90" font-size="13" text-anchor="middle">H</text>
<line x1="554.50" y1="318.30" x2="554.50" y2="437.90" stroke="#0a0a0a" stroke-width="1.25" />
<polygon points="554.50,318.30 552.30,327.80 556.70,327.80" fill="#0a0a0a"/>
<polygon points="554.50,437.90 552.30,428.40 556.70,428.40" fill="#0a0a0a"/>
<rect x="547.95" y="355.70" width="12.50" height="15" fill="#fff"/>
<text x="554.20" y="368.00" font-size="13" text-anchor="middle">E</text>
<line x1="572.50" y1="326.50" x2="572.50" y2="437.90" stroke="#0a0a0a" stroke-width="1.25" />
<polygon points="572.50,326.50 570.30,336.00 574.70,336.00" fill="#0a0a0a"/>
<polygon points="572.50,437.90 570.30,428.40 574.70,428.40" fill="#0a0a0a"/>
<rect x="566.85" y="374.70" width="12.50" height="15" fill="#fff"/>
<text x="573.10" y="387.00" font-size="13" text-anchor="middle">G</text>
<rect x="494.80" y="437.90" width="19.60" height="2.70" fill="none" stroke="#0a0a0a" stroke-width="1.1"/>
<rect x="515.60" y="437.90" width="19.60" height="2.70" fill="none" stroke="#0a0a0a" stroke-width="1.1"/>
<rect x="536.40" y="437.90" width="19.60" height="2.70" fill="none" stroke="#0a0a0a" stroke-width="1.1"/>
<rect x="557.20" y="437.90" width="19.60" height="2.70" fill="none" stroke="#0a0a0a" stroke-width="1.1"/>
</svg></body></html>
